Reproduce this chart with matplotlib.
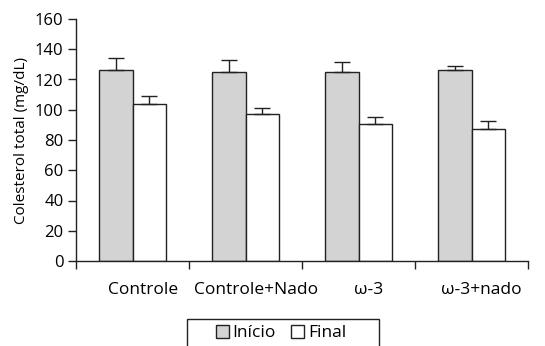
import numpy as np
import matplotlib.pyplot as plt
from matplotlib.patches import Rectangle

grupos = ['Controle', 'Controle+Nado', 'ω-3', 'ω-3+nado']
inicio = [126, 125, 125, 126]
inicio_err = [8, 8, 6.5, 3]
final = [103.5, 97, 90.5, 87.5]
final_err = [5.5, 4, 5, 5]

plt.rcParams['font.family'] = ['Open Sans', 'DejaVu Sans']
plt.rcParams['font.size'] = 12

fig = plt.figure(figsize=(5.45, 3.46), dpi=100)
ax = fig.add_axes([76 / 545, 1 - 261 / 346, 452 / 545, 242 / 346])

x = np.arange(len(grupos)) + 0.5
w = 0.30
ax.bar(x - w / 2, inicio, w, color='#d3d3d3', edgecolor='#222222', linewidth=1.0,
       yerr=[np.zeros(4), inicio_err], capsize=5.5,
       error_kw=dict(elinewidth=1.0, capthick=1.0, ecolor='#222222'), label='Início')
ax.bar(x + w / 2, final, w, color='white', edgecolor='#222222', linewidth=1.0,
       yerr=[np.zeros(4), final_err], capsize=5.5,
       error_kw=dict(elinewidth=1.0, capthick=1.0, ecolor='#222222'), label='Final')

ax.set_xlim(0, 4)
ax.set_ylim(0, 160)
ax.set_yticks(range(0, 161, 20))
ax.set_xticks(range(0, 5))
ax.set_xticklabels([])
ax.tick_params(axis='x', which='major', length=6, width=1, color='#222222')
ax.set_xticks(x + 0.09, minor=True)
ax.set_xticklabels(grupos, minor=True, fontsize=12.5)
ax.tick_params(axis='x', which='minor', length=0, pad=15)
ax.tick_params(axis='y', length=6, width=1, color='#222222', pad=3)

for s in ['top', 'right']:
    ax.spines[s].set_visible(False)
for s in ['left', 'bottom']:
    ax.spines[s].set_linewidth(1.0)
    ax.spines[s].set_color('#222222')

ax.set_ylabel('Colesterol total (mg/dL)', fontsize=11, labelpad=4)

leg = fig.legend(loc='center', bbox_to_anchor=(281 / 545, 1 - 333 / 346),
                 ncol=2, frameon=False, fontsize=12.5,
                 handlelength=0.75, handleheight=0.75, handletextpad=0.2,
                 columnspacing=0.9, borderpad=0, borderaxespad=0)
fig.patches.append(Rectangle((187 / 545, -0.05), 192 / 545, 0.05 + 27 / 346,
                             transform=fig.transFigure, fill=False,
                             edgecolor='#222222', linewidth=1.0))

fig.savefig('out.png', dpi=100)
